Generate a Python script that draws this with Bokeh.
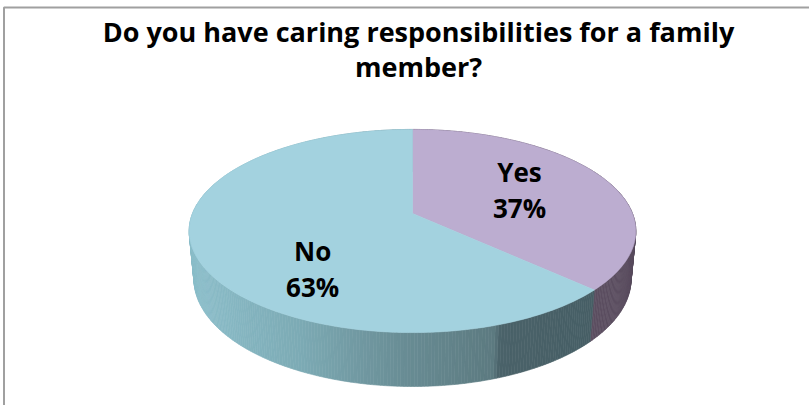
import math
import numpy as np
from bokeh.plotting import figure
from bokeh.models import Range1d, ColumnDataSource
from bokeh.embed import file_html
from bokeh.resources import INLINE
from bokeh.core.properties import value

# ---------------- data ----------------
categories = ["Yes", "No"]
percents = [37, 63]
title_lines = ["Do you have caring responsibilities for a family", "member?"]

# ---------------- style ----------------
top_colors = ["#BCADD0", "#A3D2DF"]
FONT = "Open Sans"

# 3D projection parameters (screen pixels)
CX, CY = 412.0, 213.0
D = 5.19
SCALE = 220.0 * D
SA = 0.448
CA = math.sqrt(1 - SA * SA)
H = 0.2456


def proj(X, Y, Z):
    w = D + Y * CA - Z * SA
    sx = CX + X * SCALE / w
    sy = CY - (Y * SA + Z * CA) * SCALE / w
    return sx, sy


def arc_pt(t_deg, r=1.0, z=0.0):
    t = math.radians(t_deg)
    return proj(r * math.sin(t), r * math.cos(t), z)


def lerp_color(stops, x):
    xs = [s[0] for s in stops]
    if x <= xs[0]:
        c = stops[0][1]
    elif x >= xs[-1]:
        c = stops[-1][1]
    else:
        for i in range(len(stops) - 1):
            if stops[i][0] <= x <= stops[i + 1][0]:
                f = (x - stops[i][0]) / (stops[i + 1][0] - stops[i][0])
                a, b = stops[i][1], stops[i + 1][1]
                c = tuple(a[k] + (b[k] - a[k]) * f for k in range(3))
                break
    return "#%02x%02x%02x" % tuple(int(round(v)) for v in c)


side_stops = {
    "No": [(190, (140, 190, 202)), (300, (124, 170, 180)), (400, (105, 141, 149)),
           (494, (92, 122, 128)), (500, (74, 98, 105)), (595, (70, 94, 101))],
    "Yes": [(590, (92, 79, 97)), (640, (88, 75, 93))],
}

p = figure(width=809, height=405, output_backend="svg", toolbar_location=None,
           x_range=Range1d(0, 809), y_range=Range1d(405, 0), min_border=0)
p.axis.visible = False
p.grid.visible = False
p.outline_line_color = None
p.background_fill_color = "white"

# frame of the chart area
p.line(x=[3.5, 3.5, 820], y=[420, 7, 7], line_color="#A0A0A0", line_width=2)

# angles of slices (clockwise from the back)
total = float(sum(percents))
starts, ends = [], []
acc = 0.0
for v in percents:
    starts.append(acc / total * 360.0)
    acc += v
    ends.append(acc / total * 360.0)

# side walls as thin strips
strips = []
for cat, a0, a1 in zip(categories, starts, ends):
    n = max(2, int(math.ceil((a1 - a0) / 0.75)))
    ts = np.linspace(a0, a1, n + 1)
    for i in range(n):
        t0, t1 = ts[i], ts[i + 1]
        p0 = arc_pt(t0)
        p1 = arc_pt(t1)
        b1 = arc_pt(t1, z=-H)
        b0 = arc_pt(t0, z=-H)
        xm = (p0[0] + p1[0]) / 2
        depth = math.cos(math.radians((t0 + t1) / 2))
        col = lerp_color(side_stops[cat], xm)
        strips.append((depth, [p0[0], p1[0], b1[0], b0[0]], [p0[1], p1[1], b1[1], b0[1]], col))
strips.sort(key=lambda s: -s[0])
p.patches(xs=[s[1] for s in strips], ys=[s[2] for s in strips],
          fill_color=[s[3] for s in strips], line_color=[s[3] for s in strips], line_width=0.6)

# top faces
txs, tys = [], []
for a0, a1 in zip(starts, ends):
    ts = np.linspace(a0, a1, 240)
    pts = [arc_pt(t) for t in ts]
    c = proj(0, 0, 0)
    txs.append([c[0]] + [q[0] for q in pts])
    tys.append([c[1]] + [q[1] for q in pts])
p.patches(xs=txs, ys=tys, fill_color=top_colors, line_color=top_colors, line_width=0.6)

# data labels
label_r = [0.55, 0.675]
label_shift = [0.0, -29.0]  # angular shift (deg) for placement
lx, ly = [], []
for a0, a1, r, sh in zip(starts, ends, label_r, label_shift):
    m = (a0 + a1) / 2 + sh
    q = arc_pt(m, r=r)
    lx.append(q[0])
    ly.append(q[1])
src = ColumnDataSource(dict(
    x=lx, y1=[y - 21 for y in ly], y2=[y + 15 for y in ly],
    name=categories, pct=["%d%%" % v for v in percents]))
for col in ("y1", "y2"):
    p.text(x="x", y=col, text="name" if col == "y1" else "pct", source=src,
           text_font=value(FONT), text_font_style="bold", text_font_size="26px",
           text_align="center", text_baseline="middle", text_color="black")

# title
p.text(x=[418, 418], y=[31, 66], text=title_lines, text_font=value(FONT), text_font_style="bold",
       text_font_size="27px", text_align="center", text_baseline="middle", text_color="black")

open("out.html", "w").write(file_html(p, INLINE))
